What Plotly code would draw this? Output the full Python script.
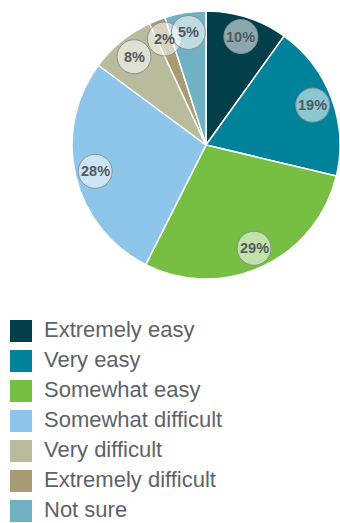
import math
import plotly.graph_objects as go

categories = ["Extremely easy", "Very easy", "Somewhat easy", "Somewhat difficult",
              "Very difficult", "Extremely difficult", "Not sure"]
values = [10, 19, 29, 28, 8, 2, 5]
colors = ["#023f4b", "#00839a", "#77bf43", "#8ec5eb", "#b8bc9d", "#a99b73", "#70b2c3"]

W, H = 340, 523
# pie placement (pixels)
PCX, PCY, PR = 206, 145, 134
LABEL_R = 0.85 * PR
BADGE_R = 17

fig = go.Figure()
fig.add_trace(go.Pie(
    labels=categories, values=values, sort=False, direction="clockwise", rotation=0,
    marker=dict(colors=colors, line=dict(color="white", width=1.5)),
    textinfo="none", hoverinfo="label+value", showlegend=False,
    domain=dict(x=[(PCX - PR) / W, min(1, (PCX + PR) / W)],
                y=[1 - (PCY + PR) / H, 1 - (PCY - PR) / H]),
))

# percentage badges placed at slice mid-angles (drawn above the pie layer)
badge_font = "Liberation Sans, Arial, sans-serif"
total = sum(values)
cum = 0
shapes, annotations = [], []
for v in values:
    mid = (cum + v / 2) / total * 2 * math.pi
    cum += v
    bx = PCX + LABEL_R * math.sin(mid)
    by = PCY - LABEL_R * math.cos(mid)
    shapes.append(dict(type="circle", xref="x", yref="y", layer="above",
                       x0=bx - BADGE_R, x1=bx + BADGE_R, y0=by - BADGE_R, y1=by + BADGE_R,
                       fillcolor="rgba(255,255,255,0.55)",
                       line=dict(color="#8c8f90", width=1)))
    annotations.append(dict(x=bx, y=by, xref="x", yref="y", text=f"{v}%", showarrow=False,
                            font=dict(family=badge_font, size=14.5, color="#545960", weight="bold")))

# legend built from categories
ROW0, ROWGAP = 331, 30
leg_y = [ROW0 + ROWGAP * i for i in range(len(categories))]
fig.add_trace(go.Scatter(
    x=[21] * len(categories), y=leg_y, mode="markers",
    marker=dict(symbol="square", size=22, color=colors, line=dict(width=0)),
    hoverinfo="skip", showlegend=False,
))
fig.add_trace(go.Scatter(
    x=[44] * len(categories), y=leg_y, mode="text", text=categories,
    textposition="middle right",
    textfont=dict(family="Liberation Sans, Arial, sans-serif", size=22, color="#5e6268"),
    hoverinfo="skip", showlegend=False,
))

fig.update_layout(
    width=W, height=H, margin=dict(l=0, r=0, t=0, b=0),
    paper_bgcolor="white", plot_bgcolor="rgba(0,0,0,0)", showlegend=False,
    xaxis=dict(range=[0, W], domain=[0, 1], visible=False, fixedrange=True),
    yaxis=dict(range=[H, 0], domain=[0, 1], visible=False, fixedrange=True),
    shapes=shapes, annotations=annotations,
)
fig.write_html("out.html")
